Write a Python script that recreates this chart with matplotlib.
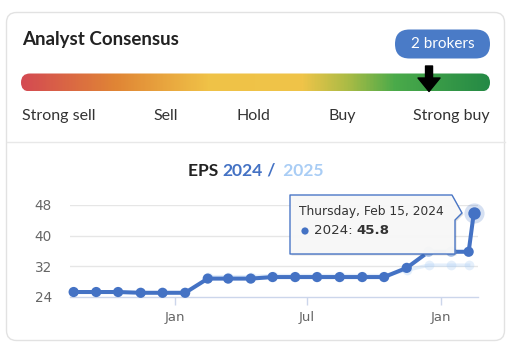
import matplotlib
matplotlib.use("Agg")
import matplotlib.pyplot as plt
import matplotlib.dates as mdates
import numpy as np
import datetime as dt
from matplotlib.patches import FancyBboxPatch, Polygon, Circle
from matplotlib.colors import LinearSegmentedColormap

# ---------------- data ----------------
rating_labels = ["Strong sell", "Sell", "Hold", "Buy", "Strong buy"]
broker_count = 2
consensus_pos = 0.87  # position of arrow on gauge (0..1)

dates_2024 = ["2022-08-15", "2022-09-15", "2022-10-15", "2022-11-15", "2022-12-15",
              "2023-01-15", "2023-02-15", "2023-03-15", "2023-04-15", "2023-05-15",
              "2023-06-15", "2023-07-15", "2023-08-15", "2023-09-15", "2023-10-15",
              "2023-11-15", "2023-12-15", "2024-01-15", "2024-02-08", "2024-02-15"]
eps_2024 = [25.3, 25.3, 25.3, 25.1, 25.1, 25.1, 28.8, 28.8, 28.8, 29.2,
            29.2, 29.2, 29.2, 29.2, 29.2, 31.6, 35.8, 35.8, 35.8, 45.8]

dates_2025 = ["2023-02-15", "2023-03-15", "2023-04-15", "2023-05-15", "2023-06-15",
              "2023-07-15", "2023-08-15", "2023-09-15", "2023-10-15", "2023-11-15",
              "2023-12-15", "2024-01-15", "2024-02-08"]
eps_2025 = [29.3, 29.3, 29.3, 29.6, 29.6, 29.6, 29.6, 29.6, 29.6, 31.0,
            32.3, 32.3, 32.3]

y_ticks = [24, 32, 40, 48]
x_tick_dates = ["2023-01-01", "2023-07-01", "2024-01-01"]
x_tick_labels = ["Jan", "Jul", "Jan"]

tooltip_header = "Thursday, Feb 15, 2024"
tooltip_series = "2024"
tooltip_value = "45.8"

# ---------------- colours ----------------
C_LINE = "#4472c4"
C_LIGHT = "#a9cdf5"
C_TEXT = "#222222"
C_TICK = "#666666"

W, H = 519, 354
fig = plt.figure(figsize=(W / 100, H / 100), dpi=100)
fig.patch.set_facecolor("white")

bg = fig.add_axes([0, 0, 1, 1], zorder=0)
bg.set_xlim(0, W)
bg.set_ylim(H, 0)
bg.axis("off")

# card
card = FancyBboxPatch((6.5, 12.5), 498, 328, boxstyle="round,pad=0,rounding_size=10",
                      fc="white", ec="#e2e2e2", lw=1.0)
bg.add_patch(card)
bg.plot([6.5, 504.5], [142, 142], color="#e8e8e8", lw=1.0)

bg.text(22, 40, "Analyst Consensus", fontfamily="Lato", fontweight="bold",
        fontsize=13.5, va="center", ha="left", color=C_TEXT)

pill = FancyBboxPatch((395, 29.5), 95, 29, boxstyle="round,pad=0,rounding_size=14.5",
                      fc="#4a7bc7", ec="none")
bg.add_patch(pill)
bg.text(442.5, 44.5, f"{broker_count} brokers", fontfamily="Lato", fontsize=11,
        color="white", ha="center", va="center")

# gradient gauge
x0, x1, yb0, yb1 = 21, 490, 73.5, 91.5
cmap = LinearSegmentedColormap.from_list("g", [
    (0.0, "#d44a52"), (0.2, "#e08535"), (0.4, "#f0c247"), (0.6, "#efc449"),
    (0.7, "#a9bb45"), (0.8, "#4aaa4a"), (1.0, "#258a45")])
grad = np.linspace(0, 1, 400).reshape(1, -1)
im = bg.imshow(grad, cmap=cmap, extent=(x0, x1, yb1, yb0), aspect="auto",
               interpolation="bilinear", zorder=2)
clip = FancyBboxPatch((x0, yb0), x1 - x0, yb1 - yb0,
                      boxstyle="round,pad=0,rounding_size=9", fc="none", ec="none")
bg.add_patch(clip)
im.set_clip_path(clip)

# arrow
ax_c = x0 + consensus_pos * (x1 - x0)
arrow = Polygon([(ax_c - 3.5, 66), (ax_c + 3.5, 66), (ax_c + 3.5, 78), (ax_c + 11, 78),
                 (ax_c, 91.5), (ax_c - 11, 78), (ax_c - 3.5, 78)],
                closed=True, fc="black", ec="black", lw=1.0, joinstyle="round", zorder=3)
bg.add_patch(arrow)

label_x = [22, 166, 253, 342, 490]
label_ha = ["left", "center", "center", "center", "right"]
for lx, lab, ha in zip(label_x, rating_labels, label_ha):
    bg.text(lx, 116, lab, fontfamily="Lato", fontsize=11.5, color="#333333",
            ha=ha, va="center")

# EPS title (multi-coloured, laid out piece by piece)
fig.canvas.draw()
r = fig.canvas.get_renderer()
pieces = [("EPS ", C_TEXT), ("2024", C_LINE), (" / ", C_LINE), (" 2025", C_LIGHT)]
TFS = 12.6
widths = []
for txt, col in pieces:
    t = bg.text(0, 171, txt, fontfamily="Lato", fontweight="bold", fontsize=TFS)
    bb = t.get_window_extent(renderer=r)
    widths.append(bb.width)
    t.remove()
total = sum(widths)
start_px = bg.transData.transform((256, 0))[0] - total / 2
cur = start_px
for (txt, col), w in zip(pieces, widths):
    xd = bg.transData.inverted().transform((cur, 0))[0]
    bg.text(xd, 171, txt, fontfamily="Lato", fontweight="bold", fontsize=TFS,
            color=col, ha="left", va="center")
    cur += w

# ---------------- chart ----------------
L, R, T, B = 70, 478, 205, 297
ax = fig.add_axes([L / W, 1 - B / H, (R - L) / W, (B - T) / H], zorder=2)
ax.patch.set_alpha(0)

d24 = [dt.datetime.strptime(s, "%Y-%m-%d") for s in dates_2024]
d25 = [dt.datetime.strptime(s, "%Y-%m-%d") for s in dates_2025]

ax.set_xlim(mdates.date2num(dt.datetime(2022, 8, 10)), mdates.date2num(dt.datetime(2024, 2, 20, 20)))
ax.set_ylim(24, 48)

for yv in y_ticks[1:]:
    ax.axhline(yv, color="#e6e6e6", lw=1.0, zorder=0)

ax.plot(d25, eps_2025, color=C_LIGHT, lw=2.5, alpha=0.3, marker="o", ms=7,
        mec="none", zorder=2, clip_on=False)

ax.plot(d24, eps_2024, color=C_LINE, lw=2.9, zorder=3, clip_on=False,
        solid_capstyle="round", solid_joinstyle="round")
mk_colors = [C_LINE] * len(d24)
mk_colors[16] = "#a9c2e9"
mk_colors[17] = "#a9c2e9"
ax.scatter(d24[:-1], eps_2024[:-1], s=54, c=mk_colors[:-1], zorder=4, clip_on=False,
           linewidths=0)
ax.scatter([d24[-1]], [eps_2024[-1]], s=210, color=C_LINE, alpha=0.22, zorder=4,
           clip_on=False, linewidths=0)
ax.scatter([d24[-1]], [eps_2024[-1]], s=80, color=C_LINE, zorder=5, clip_on=False,
           linewidths=0)

for s in ["top", "right", "left"]:
    ax.spines[s].set_visible(False)
ax.spines["bottom"].set_color("#ccd6eb")
ax.spines["bottom"].set_linewidth(1)

ax.set_yticks(y_ticks)
ax.set_yticklabels([str(v) for v in y_ticks])
ax.tick_params(axis="y", length=0, pad=13, labelsize=9.8, labelcolor=C_TICK)
ax.set_xticks([mdates.date2num(dt.datetime.strptime(s, "%Y-%m-%d")) for s in x_tick_dates])
ax.set_xticklabels(x_tick_labels)
ax.tick_params(axis="x", length=6, width=1, color="#ccd6eb", pad=4,
               labelsize=9.5, labelcolor=C_TICK)
for lab in ax.get_xticklabels() + ax.get_yticklabels():
    lab.set_fontfamily("DejaVu Sans")

# ---------------- tooltip overlay ----------------
ov = fig.add_axes([0, 0, 1, 1], zorder=5)
ov.set_xlim(0, W)
ov.set_ylim(H, 0)
ov.axis("off")
ov.patch.set_alpha(0)

pts = [(290, 195), (452, 195), (462, 213), (455, 220), (455, 254), (290, 254)]
shadow = Polygon([(x + 1.5, y + 1.5) for x, y in pts], closed=True, fc="#000000",
                 alpha=0.12, ec="none")
ov.add_patch(shadow)
tip = Polygon(pts, closed=True, fc="#f8f8f8", ec=C_LINE, lw=1.0, joinstyle="round", alpha=0.97)
ov.add_patch(tip)
ov.text(299, 212, tooltip_header, fontfamily="DejaVu Sans", fontsize=8.8,
        color="#333333", ha="left", va="center")
ov.add_patch(Circle((305, 231), 3.6, fc=C_LINE, ec="none"))
t_s = ov.text(314, 231, f"{tooltip_series}: ", fontfamily="DejaVu Sans", fontsize=9.6,
              color="#333333", ha="left", va="center")
fig.canvas.draw()
bx = t_s.get_window_extent(renderer=fig.canvas.get_renderer()).x1
bxd = ov.transData.inverted().transform((bx, 0))[0]
ov.text(bxd, 231, tooltip_value, fontfamily="DejaVu Sans", fontsize=9.6,
        fontweight="bold", color="#333333", ha="left", va="center")

fig.savefig("out.png", dpi=100, facecolor="white")
